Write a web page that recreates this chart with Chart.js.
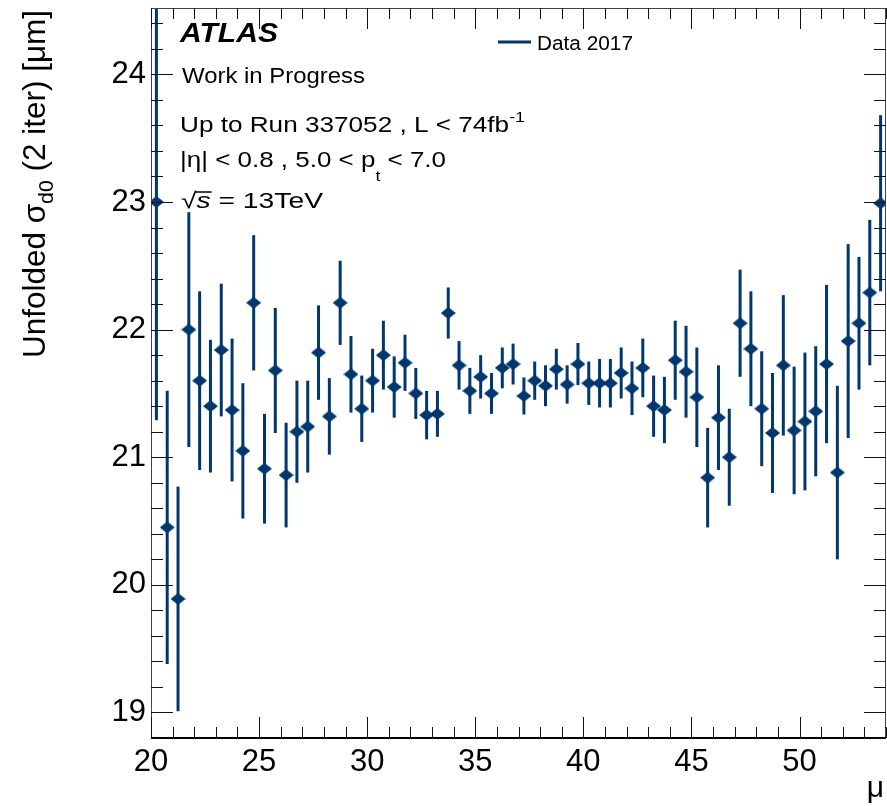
<!DOCTYPE html>
<html>
<head>
<meta charset="utf-8">
<script src="https://cdn.jsdelivr.net/npm/chart.js@4.4.1/dist/chart.umd.min.js"></script>
<style>
  html, body { margin: 0; padding: 0; background: #fff; overflow: hidden; }
  #wrap { width: 887px; height: 806px; }
  canvas { display: block; }
</style>
</head>
<body>
<div id="wrap"><canvas id="graph1" width="887" height="806"></canvas></div>
<script>
// bin centres (mu) and unfolded sigma_d0 with errors
const mu = [20.25, 20.75, 21.25, 21.75, 22.25, 22.75, 23.25, 23.75, 24.25, 24.75,
  25.25, 25.75, 26.25, 26.75, 27.25, 27.75, 28.25, 28.75, 29.25, 29.75,
  30.25, 30.75, 31.25, 31.75, 32.25, 32.75, 33.25, 33.75, 34.25, 34.75,
  35.25, 35.75, 36.25, 36.75, 37.25, 37.75, 38.25, 38.75, 39.25, 39.75,
  40.25, 40.75, 41.25, 41.75, 42.25, 42.75, 43.25, 43.75, 44.25, 44.75,
  45.25, 45.75, 46.25, 46.75, 47.25, 47.75, 48.25, 48.75, 49.25, 49.75,
  50.25, 50.75, 51.25, 51.75, 52.25, 52.75, 53.25, 53.75];
const sigma = [23.00, 20.45, 19.89, 22.00, 21.60, 21.40, 21.84, 21.37, 21.05, 22.21,
  20.91, 21.68, 20.86, 21.20, 21.24, 21.82, 21.32, 22.21, 21.65, 21.38,
  21.60, 21.80, 21.55, 21.74, 21.50, 21.33, 21.34, 22.13, 21.72, 21.52,
  21.63, 21.50, 21.70, 21.73, 21.48, 21.60, 21.56, 21.69, 21.57, 21.73,
  21.58, 21.58, 21.58, 21.66, 21.54, 21.70, 21.40, 21.37, 21.76, 21.67,
  21.47, 20.84, 21.31, 21.00, 22.05, 21.85, 21.38, 21.19, 21.72, 21.21,
  21.28, 21.36, 21.73, 20.88, 21.91, 22.05, 22.29, 22.99];
const sigmaErr = [1.71, 1.07, 0.88, 0.92, 0.70, 0.52, 0.52, 0.56, 0.53, 0.53,
  0.43, 0.49, 0.41, 0.40, 0.36, 0.37, 0.30, 0.33, 0.30, 0.26,
  0.25, 0.27, 0.24, 0.22, 0.20, 0.19, 0.18, 0.20, 0.19, 0.18,
  0.17, 0.16, 0.16, 0.16, 0.145, 0.15, 0.16, 0.16, 0.15, 0.165,
  0.17, 0.19, 0.19, 0.20, 0.21, 0.23, 0.24, 0.26, 0.31, 0.36,
  0.39, 0.39, 0.41, 0.38, 0.42, 0.45, 0.45, 0.47, 0.55, 0.50,
  0.54, 0.51, 0.62, 0.68, 0.76, 0.52, 0.57, 0.69];
const xTicks = [20, 25, 30, 35, 40, 45, 50];
const yTicks = [19, 20, 21, 22, 23, 24];
const seriesLabel = 'Data 2017';

const blue = '#00376e';
const fam = '"Liberation Sans", Arial, Helvetica, sans-serif';

// flattened diamond marker, like ROOT's
const marker = document.createElement('canvas');
marker.width = 15; marker.height = 12;
(() => {
  const m = marker.getContext('2d');
  m.fillStyle = blue;
  m.beginPath();
  m.moveTo(7.5, 0); m.lineTo(15, 6); m.lineTo(7.5, 12); m.lineTo(0, 6);
  m.closePath(); m.fill();
})();

// text made of pieces (sub/superscripts), stretched to a given width
function richText(ctx, x, y, parts, targetW) {
  let w = 0;
  parts.forEach(p => { ctx.font = (p.style || '') + ' ' + p.size + 'px ' + fam; w += ctx.measureText(p.t).width; });
  const sx = targetW ? targetW / w : 1;
  const pos = [];
  ctx.save();
  ctx.translate(x, y);
  ctx.scale(sx, 1);
  ctx.textBaseline = 'alphabetic';
  ctx.textAlign = 'left';
  let cx = 0;
  parts.forEach(p => {
    ctx.font = (p.style || '') + ' ' + p.size + 'px ' + fam;
    ctx.fillText(p.t, cx, p.dy || 0);
    const pw = ctx.measureText(p.t).width;
    pos.push([x + cx * sx, x + (cx + pw) * sx]);
    cx += pw;
  });
  ctx.restore();
  return pos;
}

const noPad = s => { s.paddingTop = 0; s.paddingBottom = 0; s.paddingLeft = 0; s.paddingRight = 0; };

const rootStyle = {
  id: 'rootStyle',
  beforeDatasetsDraw(chart) {
    const { ctx, chartArea: a, scales: { x, y } } = chart;
    ctx.save();
    ctx.beginPath();
    ctx.rect(a.left, a.top, a.right - a.left, a.bottom - a.top);
    ctx.clip();
    ctx.strokeStyle = blue;
    ctx.lineWidth = 3;
    mu.forEach((m, i) => {
      const px = x.getPixelForValue(m);
      ctx.beginPath();
      ctx.moveTo(px, y.getPixelForValue(sigma[i] - sigmaErr[i]));
      ctx.lineTo(px, y.getPixelForValue(sigma[i] + sigmaErr[i]));
      ctx.stroke();
    });
    ctx.restore();
  },
  afterDraw(chart) {
    const { ctx, chartArea: a, scales: { x, y } } = chart;
    ctx.save();
    // frame
    ctx.strokeStyle = '#444';
    ctx.lineWidth = 1;
    ctx.strokeRect(a.left + 0.5, a.top + 0.5, a.right - a.left - 1, a.bottom - a.top);
    ctx.strokeStyle = '#000';
    ctx.lineWidth = 2;
    ctx.beginPath(); ctx.moveTo(a.left, a.bottom); ctx.lineTo(a.right, a.bottom); ctx.stroke();

    // inward ticks on all four sides
    ctx.lineWidth = 1;
    ctx.strokeStyle = '#111';
    ctx.beginPath();
    for (let v = 20; v <= 54; v++) {
      const px = Math.round(x.getPixelForValue(v)) + 0.5;
      const len = v % 5 === 0 ? 21 : 11;
      ctx.moveTo(px, a.bottom); ctx.lineTo(px, a.bottom - len);
      ctx.moveTo(px, a.top); ctx.lineTo(px, a.top + len);
    }
    for (let i = 0; 18.8 + i * 0.2 <= 24.52; i++) {
      const v = 18.8 + i * 0.2;
      const py = Math.round(y.getPixelForValue(v)) + 0.5;
      const len = Math.abs(v - Math.round(v)) < 1e-6 ? 22 : 12;
      ctx.moveTo(a.left, py); ctx.lineTo(a.left + len, py);
      ctx.moveTo(a.right, py); ctx.lineTo(a.right - len, py);
    }
    ctx.stroke();

    ctx.fillStyle = '#000';
    // labels
    richText(ctx, 180, 42, [{ t: 'ATLAS', size: 27, style: 'italic bold' }], 98);
    richText(ctx, 182, 83, [{ t: 'Work in Progress', size: 22 }], 183);
    richText(ctx, 180, 132, [{ t: 'Up to Run 337052 , L < 74fb', size: 22 }, { t: '-1', size: 15, dy: -10 }], 345);
    richText(ctx, 180, 167, [{ t: '|\u03b7| < 0.8 , 5.0 < p', size: 22 }, { t: 't', size: 15, dy: 14 }, { t: ' < 7.0', size: 22 }], 266);
    const sq = richText(ctx, 181, 208, [{ t: '\u221a', size: 22 }, { t: 's', size: 22, style: 'italic' }, { t: ' = 13TeV', size: 22 }], 142);
    ctx.lineWidth = 1.5;
    ctx.strokeStyle = '#000';
    ctx.beginPath(); ctx.moveTo(sq[0][1] - 1, 192); ctx.lineTo(sq[1][1] + 1, 192); ctx.stroke();

    // legend
    ctx.strokeStyle = blue;
    ctx.lineWidth = 3;
    ctx.beginPath(); ctx.moveTo(498, 42); ctx.lineTo(531, 42); ctx.stroke();
    richText(ctx, 537, 50, [{ t: seriesLabel, size: 20 }], 96);

    // axis titles
    ctx.save();
    ctx.translate(45, 358);
    ctx.rotate(-Math.PI / 2);
    richText(ctx, 0, 0, [{ t: 'Unfolded \u03c3', size: 31 }, { t: 'd0', size: 21, dy: 8 }, { t: ' (2 iter) [\u03bcm]', size: 31 }], 348);
    ctx.restore();
    ctx.font = '30px ' + fam;
    ctx.textAlign = 'right';
    ctx.fillText('\u03bc', 884, 797);
    ctx.restore();
  }
};

const initChart = () => {
  const ctx = document.getElementById('graph1').getContext('2d');

  const data = {
    datasets: [{
      label: seriesLabel,
      data: mu.map((m, i) => ({ x: m, y: sigma[i] })),
      showLine: false,
      pointStyle: marker,
      pointRadius: 7,
      pointBackgroundColor: blue,
      pointBorderColor: blue
    }]
  };

  const tickFont = { family: fam, size: 31 };

  const options = {
    responsive: false,
    animation: false,
    devicePixelRatio: 1,
    layout: { autoPadding: false, padding: { top: 8, right: 1, left: 0, bottom: 0 } },
    plugins: { legend: { display: false }, tooltip: { enabled: false } },
    scales: {
      x: {
        type: 'linear', min: 20, max: 54,
        grid: { display: false, drawTicks: false },
        border: { display: false },
        afterBuildTicks: s => { s.ticks = xTicks.map(v => ({ value: v })); },
        afterFit: s => { s.height = 68; noPad(s); },
        ticks: { font: tickFont, color: '#000', padding: 6, maxRotation: 0, autoSkip: false }
      },
      y: {
        type: 'linear', min: 18.8, max: 24.52,
        grid: { display: false, drawTicks: false },
        border: { display: false },
        afterBuildTicks: s => { s.ticks = yTicks.map(v => ({ value: v })); },
        afterFit: s => { s.width = 151; noPad(s); },
        ticks: { font: tickFont, color: '#000', padding: 5 }
      }
    }
  };

  new Chart(ctx, { type: 'scatter', data: data, options: options, plugins: [rootStyle] });
};

initChart();
</script>
</body>
</html>
